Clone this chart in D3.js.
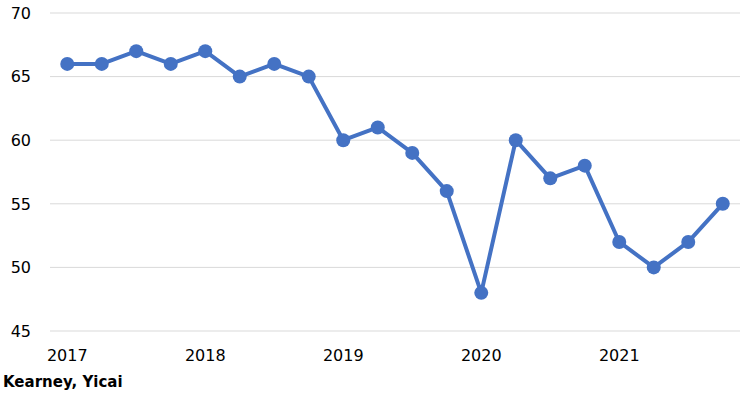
<!DOCTYPE html>
<html>
<head>
<meta charset="utf-8">
<script src="https://cdn.jsdelivr.net/npm/d3@7"></script>
<style>
  body { margin: 0; background: #fff; }
  svg { display: block; font-family: "DejaVu Sans", Verdana, sans-serif; }
</style>
</head>
<body>
<div id="chart"></div>
<script>
const quarters = ["2017Q1","2017Q2","2017Q3","2017Q4","2018Q1","2018Q2","2018Q3","2018Q4",
                  "2019Q1","2019Q2","2019Q3","2019Q4","2020Q1","2020Q2","2020Q3","2020Q4",
                  "2021Q1","2021Q2","2021Q3","2021Q4"];
const values = [66, 66, 67, 66, 67, 65, 66, 65, 60, 61, 59, 56, 48, 60, 57, 58, 52, 50, 52, 55];
const yTicks = [45, 50, 55, 60, 65, 70];
const source = "Kearney, Yicai";

const width = 751, height = 395;
const margin = {top: 13, right: 11, bottom: 64, left: 50};

const svg = d3.select("#chart").append("svg")
    .attr("width", width)
    .attr("height", height);

const x = d3.scaleBand()
    .domain(quarters)
    .range([margin.left, width - margin.right]);

const y = d3.scaleLinear()
    .domain([45, 70])
    .range([height - margin.bottom, margin.top]);

// gridlines
svg.append("g")
    .selectAll("line")
    .data(yTicks)
    .enter()
    .append("line")
    .attr("x1", margin.left)
    .attr("x2", width - margin.right)
    .attr("y1", d => y(d))
    .attr("y2", d => y(d))
    .attr("stroke", "#d9d9d9")
    .attr("stroke-width", 1);

// y labels
svg.append("g")
    .selectAll("text")
    .data(yTicks)
    .enter()
    .append("text")
    .attr("x", 31)
    .attr("y", d => y(d))
    .attr("dy", "0.36em")
    .attr("text-anchor", "end")
    .attr("font-size", 16)
    .attr("fill", "#000")
    .text(d => d);

// x labels on Q1 of each year
svg.append("g")
    .selectAll("text")
    .data(quarters.filter(q => q.endsWith("Q1")))
    .enter()
    .append("text")
    .attr("x", d => x(d) + x.bandwidth() / 2)
    .attr("y", 361)
    .attr("text-anchor", "middle")
    .attr("font-size", 16)
    .attr("fill", "#000")
    .text(d => d.slice(0, 4));

const cx = (d, i) => x(quarters[i]) + x.bandwidth() / 2;

const line = d3.line()
    .x(cx)
    .y(d => y(d));

svg.append("path")
    .datum(values)
    .attr("fill", "none")
    .attr("stroke", "#4472C4")
    .attr("stroke-width", 4)
    .attr("stroke-linejoin", "round")
    .attr("d", line);

svg.append("g")
    .selectAll("circle")
    .data(values)
    .enter()
    .append("circle")
    .attr("cx", cx)
    .attr("cy", d => y(d))
    .attr("r", 7)
    .attr("fill", "#4472C4");

svg.append("text")
    .attr("x", 3)
    .attr("y", 387)
    .attr("font-size", 15)
    .attr("font-weight", "bold")
    .attr("fill", "#000")
    .text(source);
</script>
</body>
</html>
